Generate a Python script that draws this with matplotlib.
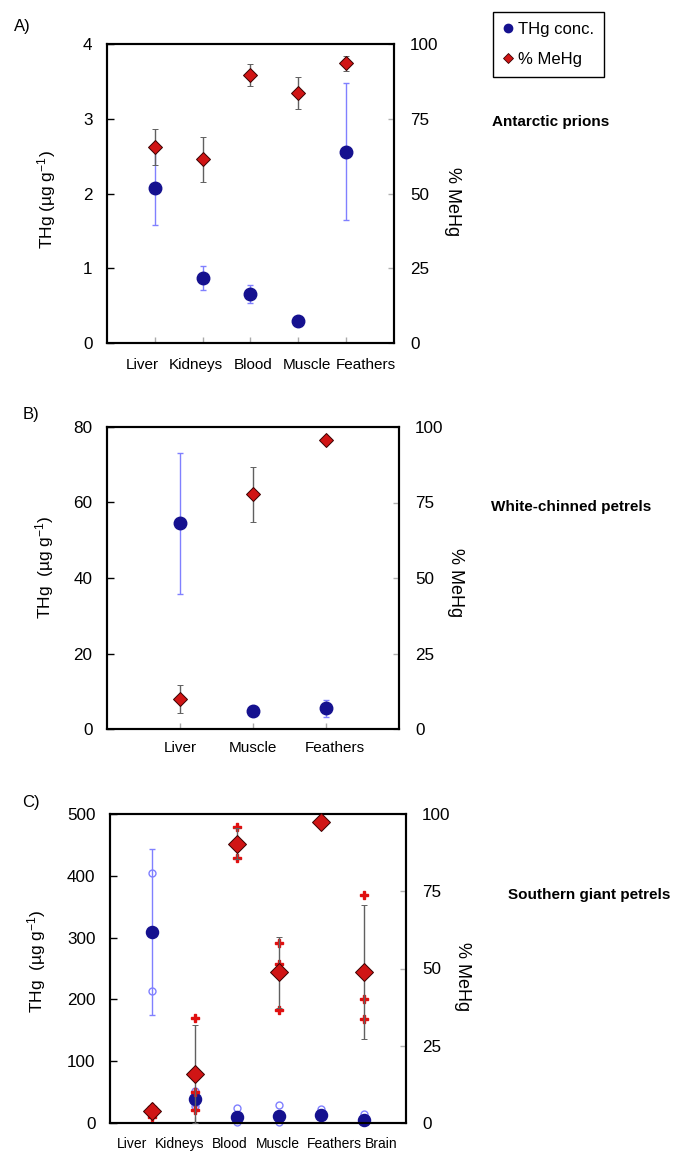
import numpy as np
import matplotlib
matplotlib.use('Agg')
import matplotlib.pyplot as plt
import matplotlib.transforms as mtrans
from matplotlib.lines import Line2D

plt.rcParams['font.family'] = ['Liberation Sans', 'DejaVu Sans']
plt.rcParams['mathtext.fontset'] = 'custom'
plt.rcParams['mathtext.rm'] = 'Liberation Sans'
plt.rcParams['mathtext.it'] = 'Liberation Sans:italic'
plt.rcParams['mathtext.bf'] = 'Liberation Sans:bold'

# ---------------- data ----------------
# Panel A - Antarctic prions
a_tissues = ['Liver', 'Kidneys', 'Blood', 'Muscle', 'Feathers']
a_thg = [2.08, 0.87, 0.65, 0.29, 2.56]
a_thg_err = [0.50, 0.16, 0.12, 0.0, 0.92]
a_mehg = [65.6, 61.4, 89.6, 83.6, 93.5]
a_mehg_err = [6.0, 7.6, 3.6, 5.4, 2.5]

# Panel B - White-chinned petrels
b_tissues = ['Liver', 'Muscle', 'Feathers']
b_thg = [54.5, 4.8, 5.5]
b_thg_err = [18.7, 1.3, 2.2]
b_mehg = [10.0, 77.7, 95.8]
b_mehg_err = [4.7, 9.0, 1.0]

# Panel C - Southern giant petrels
c_tissues = ['Liver', 'Kidneys', 'Blood', 'Muscle', 'Feathers', 'Brain']
c_thg = [309, 39, 10, 12, 13.5, 5]
c_thg_err = [135, 12, 5, 6, 5, 4]
c_thg_ind = [[404, 214], [51, 28], [24, 1], [29, 1], [22, 10], [14, 1]]
c_mehg = [3.9, 15.9, 90.4, 48.8, 97.5, 48.9]
c_mehg_err = [1.5, 15.9, 5.0, 11.5, 0.0, 21.6]
c_mehg_ind = [[5.3, 2.1], [33.9, 10.0, 4.2], [95.8, 85.8],
              [58.3, 51.5, 36.7], [], [73.7, 40.2, 33.5]]

pct_ticks = [0, 25, 50, 75, 100]

# layout only: horizontal shift (px) of category labels, as in the original
a_lbl_dx = [-13, -6.7, 2.8, 8.7, 19.3]
b_lbl_dx = [0, 0, 9]
c_lbl_dx = [-20, -14.5, -7, -1.3, 13.4, 17.3]

BLUE = '#15118f'
LBLUE = '#8080ff'
RED = '#d01515'
REDEDGE = '#3a0000'
GRAY = '#606060'

W, H = 676, 1151
fig = plt.figure(figsize=(W / 100, H / 100), dpi=100)


def rect(l, t, r, b):
    return [l / W, 1 - b / H, (r - l) / W, (b - t) / H]


def panel(box, tissues, lbl_dx, lbl_y, lbl_fs, thg, thg_err, mehg, mehg_err,
          ymax, ystep, circ_ms=9, dia_ms=7.5, thg_ind=None, mehg_ind=None):
    ax = fig.add_axes(rect(*box))
    x = np.arange(len(tissues))
    ax.errorbar(x, thg, yerr=thg_err, fmt='o', ms=circ_ms, mfc=BLUE, mec=BLUE,
                ecolor=LBLUE, elinewidth=1, capsize=2, capthick=1,
                zorder=3, clip_on=False)
    if thg_ind is not None:
        for xi, vals in zip(x, thg_ind):
            ax.plot([xi] * len(vals), vals, 'o', ms=5, mfc='none', mec=LBLUE,
                    mew=1, zorder=2, clip_on=False)
    ax.set_xlim(-1, len(tissues))
    ax.set_ylim(0, ymax)
    ax.set_yticks(np.arange(0, ymax + ystep / 2, ystep))
    ax.set_xticks(x)
    ax.set_xticklabels([''] * len(x))
    ax.tick_params(axis='y', direction='in', length=5, width=1, color='black',
                   labelsize=12.3, pad=10.5)
    ax.tick_params(axis='x', direction='in', length=4, width=1, color='#aaaaaa')
    for xi, name, dx in zip(x, tissues, lbl_dx):
        tr = ax.get_xaxis_transform() + mtrans.ScaledTranslation(dx / 100, 0, fig.dpi_scale_trans)
        ax.text(xi, lbl_y, name, transform=tr, ha='center', va='center',
                fontsize=lbl_fs, clip_on=False)

    ax2 = ax.twinx()
    if mehg_ind is not None:
        for xi, vals in zip(x, mehg_ind):
            if vals:
                ax2.plot([xi] * len(vals), vals, 'P', ms=6, mfc='#e01010',
                         mec='#e01010', mew=1, zorder=2, clip_on=False)
    ax2.errorbar(x, mehg, yerr=mehg_err, fmt='D', ms=dia_ms, mfc=RED,
                 mec=REDEDGE, mew=0.7, ecolor=GRAY, elinewidth=1, capsize=2,
                 capthick=1, zorder=3, clip_on=False)
    ax2.set_ylim(0, 100)
    ax2.set_yticks(pct_ticks)
    ax2.tick_params(axis='y', direction='in', length=4, width=1, color='#b0b0b0',
                    labelsize=12.3, pad=11.5)
    for a in (ax, ax2):
        for s in a.spines.values():
            s.set_linewidth(1.5)
            s.set_color('black')
    return ax, ax2


panel((107, 44, 394, 343), a_tissues, a_lbl_dx, -0.0736, 11,
      a_thg, a_thg_err, a_mehg, a_mehg_err, 4, 1)
panel((107, 427, 399, 729), b_tissues, b_lbl_dx, -0.063, 11,
      b_thg, b_thg_err, b_mehg, b_mehg_err, 80, 20)
panel((110, 814, 406, 1123), c_tissues, c_lbl_dx, -0.068, 10,
      c_thg, c_thg_err, c_mehg, c_mehg_err, 500, 100,
      circ_ms=8.7, dia_ms=9, thg_ind=c_thg_ind, mehg_ind=c_mehg_ind)


def ftext(px, py, s, **kw):
    fig.text(px / W, 1 - py / H, s, **kw)


# left y labels
ftext(47, 200, 'THg (µg g$^{\\mathregular{-1}}$)', rotation=90, ha='center', va='center', fontsize=12.5)
ftext(45, 567, 'THg  (µg g$^{\\mathregular{-1}}$)', rotation=90, ha='center', va='center', fontsize=12.5)
ftext(37, 961, 'THg  (µg g$^{\\mathregular{-1}}$)', rotation=90, ha='center', va='center', fontsize=12.5)
# right y labels
for px, py in [(453, 202), (455, 583), (462, 977)]:
    ftext(px, py, '% MeHg', rotation=270, ha='center', va='center', fontsize=13)

# panel letters
ftext(22, 27, 'A)', ha='center', va='center', fontsize=12)
ftext(31, 415, 'B)', ha='center', va='center', fontsize=12)
ftext(31, 802, 'C)', ha='center', va='center', fontsize=12)

# species labels
ftext(492, 122, 'Antarctic prions', ha='left', va='center', fontsize=11, fontweight='bold')
ftext(491, 507, 'White-chinned petrels', ha='left', va='center', fontsize=11, fontweight='bold')
ftext(508, 895, 'Southern giant petrels', ha='left', va='center', fontsize=11, fontweight='bold')

# legend
handles = [Line2D([], [], marker='o', ls='', mfc=BLUE, mec=BLUE, ms=6),
           Line2D([], [], marker='D', ls='', mfc=RED, mec=REDEDGE, mew=0.6, ms=5)]
leg = fig.legend(handles, ['THg conc.', '% MeHg'], loc='upper left',
                 bbox_to_anchor=(493 / W, 1 - 12 / H), frameon=True, fancybox=False,
                 edgecolor='black', framealpha=1, fontsize=12, handlelength=0.6,
                 handletextpad=0.3, labelspacing=0.9, borderpad=0.6, borderaxespad=0)
leg.get_frame().set_linewidth(1)

fig.savefig('out.png', dpi=100)
